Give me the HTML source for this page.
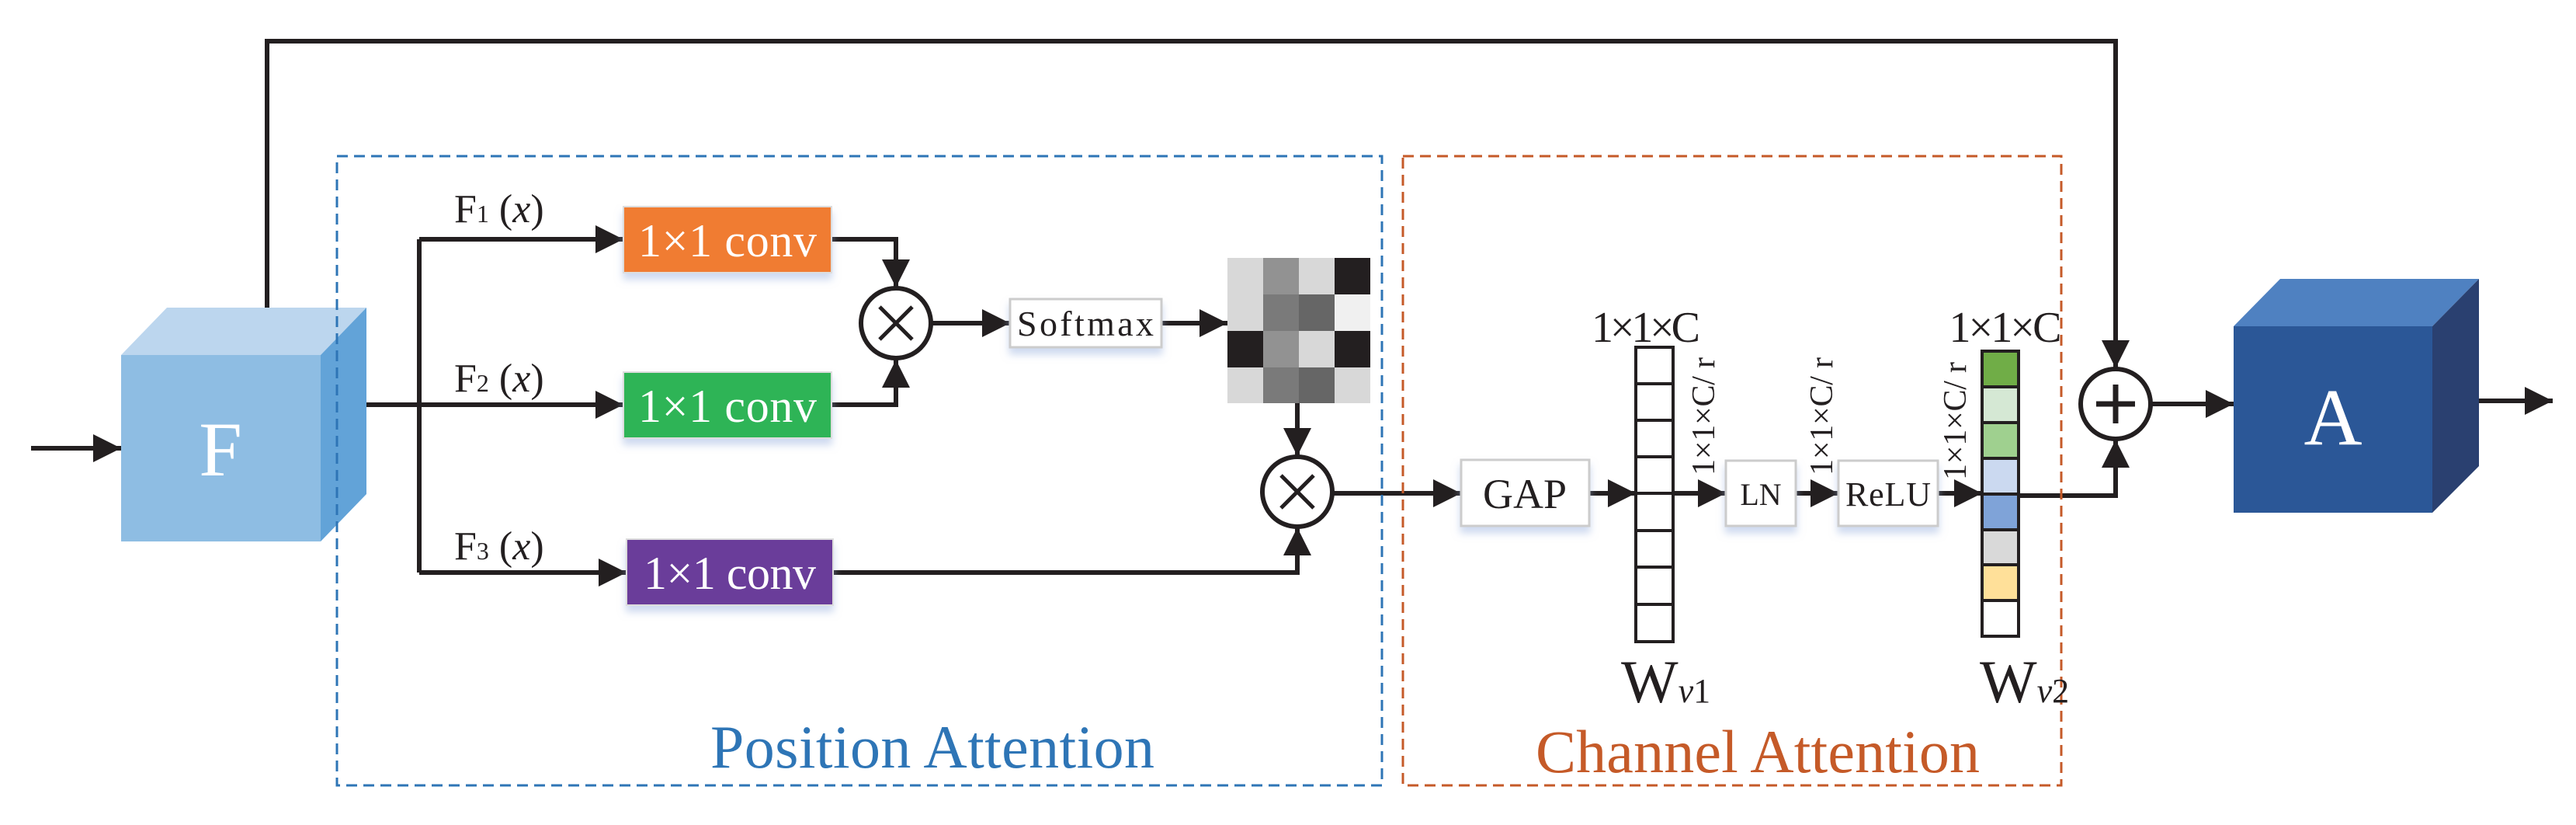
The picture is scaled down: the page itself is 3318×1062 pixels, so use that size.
<!DOCTYPE html>
<html><head><meta charset="utf-8"><style>
html,body{margin:0;padding:0;background:#fff;}
svg{display:block;}
text{font-family:"Liberation Serif",serif;}
</style></head><body>
<svg width="3318" height="1062" viewBox="0 0 3318 1062" xmlns="http://www.w3.org/2000/svg">
<defs>
<marker id="ah" viewBox="0 0 10 10" refX="10" refY="5" markerWidth="6.5" markerHeight="6" markerUnits="strokeWidth" orient="auto"><path d="M0,0 L10,5 L0,10 z" fill="#231f20"/></marker>
<filter id="sh" x="-20%" y="-20%" width="140%" height="160%"><feDropShadow dx="0" dy="8" stdDeviation="5" flood-color="#9db4e0" flood-opacity="0.5"/></filter>
</defs>
<g stroke="#231f20" stroke-width="6" fill="none">
<line x1="40" y1="577" x2="156" y2="577" marker-end="url(#ah)"/>
<polyline points="344,396 344,53 2725,53 2725,474" marker-end="url(#ah)"/>
<line x1="413" y1="521" x2="540" y2="521"/>
<line x1="540" y1="308" x2="540" y2="737"/>
<line x1="540" y1="308" x2="803" y2="308" marker-end="url(#ah)"/>
<line x1="540" y1="521" x2="803" y2="521" marker-end="url(#ah)"/>
<line x1="540" y1="737" x2="807" y2="737" marker-end="url(#ah)"/>
<polyline points="1071,308 1154,308 1154,370" marker-end="url(#ah)"/>
<polyline points="1071,521 1154,521 1154,463" marker-end="url(#ah)"/>
<line x1="1200" y1="416" x2="1301" y2="416" marker-end="url(#ah)"/>
<line x1="1496" y1="416" x2="1581" y2="416" marker-end="url(#ah)"/>
<line x1="1671" y1="519" x2="1671" y2="587" marker-end="url(#ah)"/>
<polyline points="1073,737 1671,737 1671,679" marker-end="url(#ah)"/>
<line x1="1717" y1="635" x2="1882" y2="635" marker-end="url(#ah)"/>
<line x1="2047" y1="635" x2="2107" y2="635" marker-end="url(#ah)"/>
<line x1="2155" y1="635" x2="2223" y2="635" marker-end="url(#ah)"/>
<line x1="2312" y1="635" x2="2368" y2="635" marker-end="url(#ah)"/>
<line x1="2495" y1="635" x2="2553" y2="635" marker-end="url(#ah)"/>
<polyline points="2600,638 2725,638 2725,566" marker-end="url(#ah)"/>
<line x1="2770" y1="520" x2="2877" y2="520" marker-end="url(#ah)"/>
<line x1="3193" y1="516" x2="3288" y2="516" marker-end="url(#ah)"/>
</g>
<polygon points="156,457 215,396 472,396 413,457" fill="#bcd6ee"/>
<polygon points="413,457 472,396 472,636 413,697" fill="#62a3d8"/>
<rect x="156" y="457" width="257" height="240" fill="#8ebde3"/>
<text x="284" y="612" font-size="100" fill="#fff" text-anchor="middle">F</text>
<rect x="434" y="201" width="1346" height="810" fill="none" stroke="#2e75b6" stroke-width="3" stroke-dasharray="14,8"/>
<rect x="1807" y="201" width="848" height="810" fill="none" stroke="#c55a28" stroke-width="3" stroke-dasharray="14,8"/>
<g filter="url(#sh)">
<rect x="803" y="266" width="268" height="85" fill="#f07c33" stroke="#ddd" stroke-width="2"/>
<rect x="803" y="479" width="268" height="85" fill="#2db456" stroke="#ddd" stroke-width="2"/>
<rect x="807" y="694" width="266" height="85" fill="#6a3d9a" stroke="#ddd" stroke-width="2"/>
<rect x="1301" y="385" width="195" height="62" fill="#fff" stroke="#ccc" stroke-width="3"/>
<rect x="1882" y="592" width="165" height="85" fill="#fff" stroke="#ccc" stroke-width="3"/>
<rect x="2223" y="593" width="90" height="84" fill="#fff" stroke="#ccc" stroke-width="3"/>
<rect x="2368" y="593" width="128" height="84" fill="#fff" stroke="#ccc" stroke-width="3"/>
</g>
<g font-size="60" fill="#fff" text-anchor="middle">
<text x="937" y="330" textLength="230">1×1 conv</text>
<text x="937" y="543" textLength="230">1×1 conv</text>
<text x="940" y="758" textLength="222">1×1 conv</text>
</g>
<g font-size="52" fill="#231f20">
<text x="585" y="286">F<tspan font-size="32">1</tspan> (<tspan font-style="italic">x</tspan>)</text>
<text x="585" y="504">F<tspan font-size="32">2</tspan> (<tspan font-style="italic">x</tspan>)</text>
<text x="585" y="720">F<tspan font-size="32">3</tspan> (<tspan font-style="italic">x</tspan>)</text>
</g>
<text x="1398" y="432" font-size="46" fill="#231f20" text-anchor="middle" textLength="176">Softmax</text>
<text x="1964" y="654" font-size="54" fill="#231f20" text-anchor="middle">GAP</text>
<text x="2268" y="650" font-size="40" fill="#231f20" text-anchor="middle">LN</text>
<text x="2432" y="651" font-size="44" fill="#231f20" text-anchor="middle" textLength="110">ReLU</text>
<g stroke="#231f20" stroke-width="6" fill="#fff">
<circle cx="1154" cy="416" r="45"/>
<circle cx="1671" cy="633" r="45"/>
<circle cx="2725" cy="520" r="45"/>
</g>
<g stroke="#231f20" stroke-width="5">
<line x1="1133" y1="395" x2="1175" y2="437"/><line x1="1175" y1="395" x2="1133" y2="437"/>
<line x1="1650" y1="612" x2="1692" y2="654"/><line x1="1692" y1="612" x2="1650" y2="654"/>
<line x1="2700" y1="520" x2="2750" y2="520" stroke-width="7"/><line x1="2725" y1="495" x2="2725" y2="545" stroke-width="7"/>
</g>
<g>
<rect x="1581" y="332" width="46" height="47" fill="#d8d8d8"/><rect x="1627" y="332" width="46" height="47" fill="#929292"/><rect x="1673" y="332" width="46" height="47" fill="#d8d8d8"/><rect x="1719" y="332" width="46" height="47" fill="#231f20"/>
<rect x="1581" y="379" width="46" height="47" fill="#d8d8d8"/><rect x="1627" y="379" width="46" height="47" fill="#7a7a7a"/><rect x="1673" y="379" width="46" height="47" fill="#666"/><rect x="1719" y="379" width="46" height="47" fill="#f0f0f0"/>
<rect x="1581" y="426" width="46" height="47" fill="#231f20"/><rect x="1627" y="426" width="46" height="47" fill="#929292"/><rect x="1673" y="426" width="46" height="47" fill="#d8d8d8"/><rect x="1719" y="426" width="46" height="47" fill="#231f20"/>
<rect x="1581" y="473" width="46" height="46" fill="#d8d8d8"/><rect x="1627" y="473" width="46" height="46" fill="#7a7a7a"/><rect x="1673" y="473" width="46" height="46" fill="#666"/><rect x="1719" y="473" width="46" height="46" fill="#d8d8d8"/>
</g>
<g stroke="#231f20" stroke-width="4" fill="#fff">
<rect x="2107" y="447" width="48" height="47"/><rect x="2107" y="494" width="48" height="47"/><rect x="2107" y="541" width="48" height="47"/><rect x="2107" y="588" width="48" height="47"/><rect x="2107" y="635" width="48" height="48"/><rect x="2107" y="683" width="48" height="47"/><rect x="2107" y="730" width="48" height="48"/><rect x="2107" y="778" width="48" height="48"/>
</g>
<g stroke="#231f20" stroke-width="4">
<rect x="2553" y="452" width="47" height="46" fill="#70ad47"/><rect x="2553" y="498" width="47" height="46" fill="#d5e8d4"/><rect x="2553" y="544" width="47" height="46" fill="#9fd08f"/><rect x="2553" y="590" width="47" height="46" fill="#cbd9f0"/><rect x="2553" y="636" width="47" height="46" fill="#7fa3d8"/><rect x="2553" y="682" width="47" height="45" fill="#d9d9d9"/><rect x="2553" y="727" width="47" height="46" fill="#ffe099"/><rect x="2553" y="773" width="47" height="46" fill="#fff"/>
</g>
<g font-size="56" fill="#231f20" text-anchor="middle">
<text x="2120" y="440" textLength="140">1×1×C</text>
<text x="2583" y="440" textLength="145">1×1×C</text>
</g>
<g font-size="42" fill="#231f20">
<text transform="translate(2208,612) rotate(-90)" textLength="152">1×1×C/ r</text>
<text transform="translate(2360,612) rotate(-90)" textLength="152">1×1×C/ r</text>
<text transform="translate(2532,618) rotate(-90)" textLength="152">1×1×C/ r</text>
</g>
<text x="2088" y="904" font-size="78" fill="#231f20">W<tspan font-size="44" font-style="italic">v</tspan><tspan font-size="44">1</tspan></text>
<text x="2550" y="904" font-size="78" fill="#231f20">W<tspan font-size="44" font-style="italic">v</tspan><tspan font-size="44">2</tspan></text>
<polygon points="2877,420 2937,359 3193,359 3133,420" fill="#4f81c1"/>
<polygon points="3133,420 3193,359 3193,600 3133,660" fill="#2a4070"/>
<rect x="2877" y="420" width="256" height="240" fill="#2b5797"/>
<text x="3005" y="572" font-size="104" fill="#fff" text-anchor="middle">A</text>
<text x="1201" y="988" font-size="78" fill="#2e75b6" text-anchor="middle" textLength="572">Position Attention</text>
<text x="2264" y="994" font-size="78" fill="#c55a28" text-anchor="middle" textLength="572">Channel Attention</text>
</svg>
</body></html>
